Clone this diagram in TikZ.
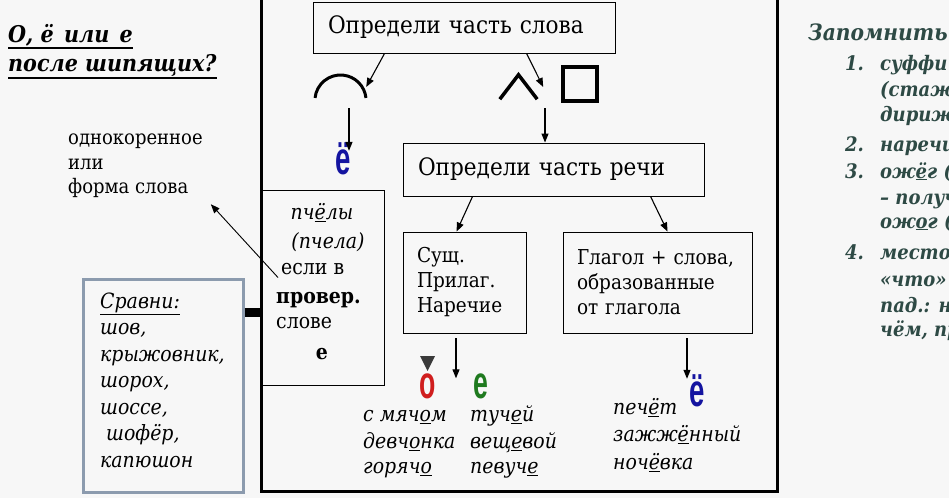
\documentclass[tikz,border=0pt]{standalone}
\usepackage{fontspec}
\IfFontExistsTF{DejaVu Serif Condensed}{%
  \setmainfont{DejaVu Serif Condensed}}{%
  \setmainfont{DejaVu Serif}}
\newfontfamily\letrafont{Liberation Sans}
\usepackage{graphicx}
\usetikzlibrary{arrows.meta}

\definecolor{fondo}{HTML}{F7F7F7}
\definecolor{marcogris}{HTML}{8C9BAE}
\definecolor{verdegris}{HTML}{2E4A45}
\definecolor{azulyo}{HTML}{1414A0}
\definecolor{rojoo}{HTML}{D01E1E}
\definecolor{verdee}{HTML}{1F7A1F}
\definecolor{grisoscuro}{HTML}{3A3A3A}

\tikzset{
  caja/.style={rectangle, draw=black, line width=0.9pt, align=left, inner xsep=15pt, inner ysep=0pt, font=\fontsize{24}{24}\selectfont},
  texto/.style={anchor=base west, inner sep=0pt, font=\fontsize{21}{21}\selectfont},
  cursiva/.style={texto, font=\itshape\fontsize{21}{21}\selectfont},
  nota/.style={texto, text=verdegris, font=\bfseries\itshape\fontsize{20}{20}\selectfont},
  titulo/.style={texto, font=\bfseries\itshape\fontsize{23}{23}\selectfont},
  letra/.style={inner sep=0pt, text height=25pt, text depth=0pt, font=\letrafont\bfseries\fontsize{46}{46}\selectfont},
  flecha/.style={line width=1.1pt, -{Triangle[length=9pt, width=7pt]}},
  simbolo/.style={line width=3pt},
  subrayado/.style={line width=2.5pt}
}

\begin{document}
\begin{tikzpicture}[x=1pt, y=-1pt]

    \fill[fondo] (0,0) rectangle (949,498);
    \useasboundingbox (0,0) rectangle (949,498);

    % --- Titulo ---
    \node[titulo] (tit1) at (8,42) {О, ё\hspace{0.45em}или\hspace{0.45em}е};
    \node[titulo] (tit2) at (8,71) {после шипящих?};
    \draw[subrayado] ([yshift=-6pt]tit1.base west) -- ([yshift=-6pt]tit1.base east);
    \draw[subrayado] ([yshift=-7pt]tit2.base west) -- ([yshift=-7pt]tit2.base east);

    % --- Marco central ---
    \draw[line width=3pt] (261,-5) rectangle (777,491);

    % --- Parte de la palabra ---
    \node[caja, text width=272pt, minimum height=51pt] (parteslova) at (464,27.5) {Определи часть слова};

    \node[inner sep=0pt, minimum width=51pt, minimum height=24pt] (raiz) at (340.5,87) {};
    \draw[simbolo] (340.5,100.6) ++(186:25.6) arc[start angle=186, end angle=354, radius=25.6];

    \node[inner sep=0pt, minimum width=37pt, minimum height=24pt] (sufijo) at (518.5,87) {};
    \draw[simbolo, line width=3.5pt] (sufijo.south west) -- (sufijo.north) -- (sufijo.south east);
    \node[draw, line width=4pt, minimum size=34pt, inner sep=0pt] (terminacion) at (580,83.5) {};
    \coordinate (entre) at (545,108);

    \node[letra, text height=32pt, text=azulyo] (yo1) at (343,158) {\scalebox{0.6}[1]{ё}};

    \draw[flecha] ([xshift=72pt]parteslova.south west) -- (raiz.east);
    \draw[flecha] ([xshift=214pt]parteslova.south west) -- ([xshift=6pt]sufijo.east);
    \draw[flecha] ([xshift=8.5pt,yshift=-9pt]raiz.south) -- ([xshift=8.5pt,yshift=-9pt]raiz.south |- yo1.north);

    % --- Parte de la oracion ---
    \node[caja, text width=271pt, minimum height=53pt] (parterechi) at (553.5,169.5) {Определи часть речи};
    \draw[flecha] (entre) -- (entre |- parterechi.north);

    \node[caja, inner xsep=14pt, text width=95pt, minimum height=101pt, font=\fontsize{20.5}{25}\selectfont] (sust) at (464.5,282.5) {Сущ.\\Прилаг.\\Наречие};
    \node[caja, inner xsep=14pt, text width=161pt, minimum height=101pt, font=\fontsize{20.5}{25}\selectfont] (glagol) at (657.5,282.5) {Глагол + слова,\\образованные\\от глагола};

    \draw[flecha] ([xshift=70pt]parterechi.south west) -- ([xshift=54pt]sust.north west);
    \draw[flecha] ([xshift=248pt]parterechi.south west) -- ([xshift=105pt]glagol.north west);

    % --- Raiz: pchely ---
    \node[draw, line width=0.9pt, minimum width=122pt, minimum height=195pt, inner sep=0pt] (pchely) at (323,287.5) {};
    \node[cursiva, anchor=base] (pc1) at (322,219) {пч\underline{ё}лы};
    \node[cursiva, anchor=base] (pc2) at (328,248) {(пчела)};
    \node[texto] (esli) at (281,274) {если в};
    \node[texto, font=\bfseries\fontsize{21}{21}\selectfont] (prov) at (276,303) {провер.};
    \node[texto] (slove) at (276,328) {слове};
    \node[texto, anchor=base, font=\bfseries\fontsize{21}{21}\selectfont] (pce) at (322,359) {е};

    \node[texto, align=left, anchor=north west, font=\fontsize{20}{24.5}\selectfont] (odnokor) at (68,134) {однокоренное\\или\\форма слова};
    \draw[flecha, line width=0.9pt] ([xshift=-3pt,yshift=-3pt]esli.south west) -- ([xshift=8pt,yshift=-6pt]odnokor.south east);

    % --- Sravni ---
    \node[draw=marcogris, line width=3pt, minimum width=160pt, minimum height=213pt, inner sep=0pt] (sravni) at (163,385.5) {};
    \draw[line width=9pt] ([yshift=-35pt]sravni.north east) -- ([yshift=-35pt]sravni.north east -| pchely.west);
    \node[cursiva] (sr0) at (100,308) {\underline{Сравни:}};
    \foreach \pal [count=\i] in {{шов,}, {крыжовник,}, {шорох,}, {шоссе,}, {\ шофёр,}, {капюшон}} {
        \node[cursiva] (sr\i) at (100,{308+26.5*\i}) {\pal};
    }

    % --- Sufijos: o / e ---
    \node[letra, text=rojoo] (lo) at (428,386) {\scalebox{0.58}[1]{о}};
    \node[letra, text=verdee] (le) at (481,386) {\scalebox{0.58}[1]{е}};
    \fill[grisoscuro] (420,356) -- (435,356) -- (427.5,371) -- cycle;
    \draw[flecha] ([xshift=-8.5pt,yshift=-5pt]sust.south) -- ([xshift=-8.5pt,yshift=-5pt]sust.south |- lo.north);

    \foreach \pal/\y in {{с мяч\underline{о}м}/421, {девч\underline{о}нка}/448, {горяч\underline{о}}/473} {
        \node[cursiva] (o\y) at (363,\y) {\pal};
    }
    \foreach \pal/\y in {{туч\underline{е}й}/421, {вещ\underline{е}вой}/448, {певуч\underline{е}}/473} {
        \node[cursiva] (e\y) at (470,\y) {\pal};
    }

    % --- Verbo: yo ---
    \node[letra, text height=32pt, text=azulyo] (yo2) at (697,390) {\scalebox{0.6}[1]{ё}};
    \draw[flecha] ([xshift=29.5pt,yshift=-5pt]glagol.south) -- ([xshift=29.5pt,yshift=-5pt]glagol.south |- yo2.north);
    \foreach \pal/\y in {{печ\underline{ё}т}/414, {зажж\underline{ё}нный}/441, {ноч\underline{ё}вка}/469} {
        \node[cursiva] (v\y) at (613,\y) {\pal};
    }

    % --- Zapomnit ---
    \node[nota, font=\bfseries\itshape\fontsize{22.5}{22.5}\selectfont] (zap) at (808,40) {Запомнить};
    \foreach \y/\num in {70/1., 151/2., 178/3., 259/4.} {
        \node[nota, anchor=base east] (n\y) at (864,\y) {\num};
    }
    \foreach \y/\pal in {70/суффи, 96/(стаж, 121/дириж, 151/наречи, 178/{ож\underline{ё}г (}, 204/{– получ}, 228/{ож\underline{о}г (}, 259/место, 286/«что», 312/{пад.: н}, 336/{чём, пр}} {
        \node[nota] (r\y) at (880,\y) {\pal};
    }

\end{tikzpicture}
\end{document}
